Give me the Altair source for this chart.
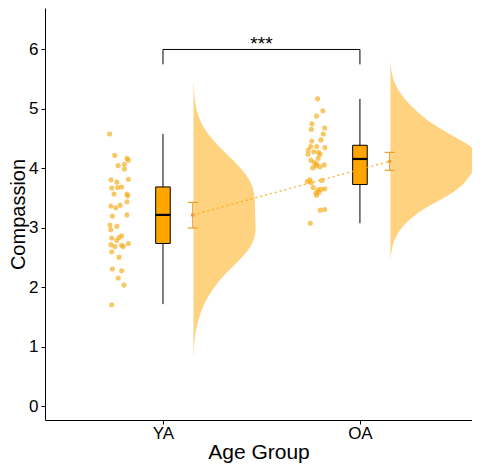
import altair as alt
import pandas as pd

# ---------------- data ----------------
groups = ["YA", "OA"]
group_pos = [1, 2]

ya_values = [4.58, 4.22, 4.17, 4.14, 4.05, 4.07, 3.99, 3.81, 3.77, 3.82, 3.67, 3.68, 3.69,
             3.57, 3.57, 3.54, 3.37, 3.34, 3.38, 3.44, 3.20, 3.22, 3.05, 3.03, 2.97, 2.83,
             2.79, 2.84, 2.87, 2.72, 2.69, 2.71, 2.69, 2.74, 2.60, 2.51, 2.31, 2.28, 2.16,
             2.04, 1.71]
ya_jitter = [-0.271, -0.245, -0.183, -0.176, -0.228, -0.196, -0.196, -0.264, -0.234, -0.176,
             -0.260, -0.230, -0.210, -0.183, -0.249, -0.179, -0.264, -0.240, -0.217, -0.183,
             -0.257, -0.183, -0.269, -0.234, -0.265, -0.260, -0.234, -0.223, -0.210, -0.264,
             -0.244, -0.210, -0.202, -0.176, -0.260, -0.223, -0.257, -0.210, -0.227, -0.198,
             -0.260]
oa_values = [5.17, 4.97, 4.88, 4.75, 4.68, 4.66, 4.58, 4.48, 4.46, 4.35, 4.37, 4.37, 4.31,
             4.28, 4.27, 4.24, 4.24, 4.14, 4.17, 4.10, 4.08, 4.04, 4.03, 4.06, 4.01, 3.81,
             3.78, 3.80, 3.76, 3.68, 3.64, 3.65, 3.66, 3.59, 3.60, 3.55, 3.30, 3.31, 3.08]
oa_jitter = [-0.215, -0.188, -0.220, -0.244, -0.179, -0.247, -0.186, -0.198, -0.245, -0.178,
             -0.220, -0.250, -0.262, -0.234, -0.210, -0.203, -0.264, -0.249, -0.212, -0.232,
             -0.220, -0.223, -0.203, -0.181, -0.240, -0.254, -0.268, -0.193, -0.247, -0.237,
             -0.213, -0.196, -0.178, -0.223, -0.207, -0.220, -0.202, -0.179, -0.252]

box_min = [1.72, 3.08]
box_q1 = [2.74, 3.73]
box_median = [3.22, 4.16]
box_q3 = [3.69, 4.39]
box_max = [4.58, 5.17]

mean_vals = [3.22, 4.12]
err_lo = [3.00, 3.97]
err_hi = [3.43, 4.27]

violin_bw = [0.36, 0.25]
violin_extent = [[0.85, 5.46], [2.47, 5.78]]

sig_label = "***"
sig_y = 6.0
sig_drop = 5.75

# ---------------- layout constants ----------------
BOX_HALF = 0.037
ERR_OFF = 0.151
CAP_HALF = 0.026
VIOLIN_OFF = 0.155
VIOLIN_WIDTH = [0.315, 0.448]

ORANGE = "#FFA500"
POINT_COL = "#F5A300"
ERR_COL = "#EBA030"

# ---------------- tables ----------------
pts = pd.DataFrame({
    "group": ["YA"] * len(ya_values) + ["OA"] * len(oa_values),
    "value": ya_values + oa_values,
    "jitter": ya_jitter + oa_jitter,
    "pos": [group_pos[0]] * len(ya_values) + [group_pos[1]] * len(oa_values),
})
summ = pd.DataFrame({
    "group": groups, "pos": group_pos,
    "min": box_min, "q1": box_q1, "med": box_median, "q3": box_q3, "max": box_max,
    "mean": mean_vals, "lo": err_lo, "hi": err_hi,
})
bracket = pd.DataFrame({
    "xa": [group_pos[0], group_pos[0], group_pos[1]],
    "xb": [group_pos[1], group_pos[0], group_pos[1]],
    "ya": [sig_y, sig_drop, sig_drop],
    "yb": [sig_y, sig_y, sig_y],
})
sig = pd.DataFrame({"x": [sum(group_pos) / 2], "y": [sig_y], "label": [sig_label]})

xscale = alt.Scale(domain=[0.401, 2.569], nice=False, zero=False)
yscale = alt.Scale(domain=[-0.227, 6.697], nice=False, zero=False)
label_expr = "[" + ",".join("'" + g + "'" for g in groups) + "][datum.value - 1]"
xaxis = alt.Axis(values=group_pos, labelExpr=label_expr, title="Age Group")
yaxis = alt.Axis(values=[0, 1, 2, 3, 4, 5, 6], title="Compassion")


def X(f):
    return alt.X(f, type="quantitative", scale=xscale, axis=xaxis, title="Age Group")


def Y(f):
    return alt.Y(f, type="quantitative", scale=yscale, axis=yaxis, title="Compassion")


# violins
violins = []
for i, g in enumerate(groups):
    v = (alt.Chart(pts)
         .transform_filter(alt.datum.group == g)
         .transform_density("value", bandwidth=violin_bw[i], extent=violin_extent[i],
                            steps=200, as_=["value", "density"])
         .transform_joinaggregate(dmax="max(density)")
         .transform_calculate(
             x0=f"{group_pos[i]} + {VIOLIN_OFF}",
             x1=f"{group_pos[i]} + {VIOLIN_OFF} + datum.density / datum.dmax * {VIOLIN_WIDTH[i]}")
         .mark_area(orient="horizontal", color=ORANGE, opacity=0.5, clip=True)
         .encode(y=Y("value"), x=X("x0"), x2="x1"))
    violins.append(v)

points = (alt.Chart(pts)
          .transform_calculate(xp="datum.pos + datum.jitter")
          .mark_circle(size=26, color=POINT_COL, opacity=0.6)
          .encode(x=X("xp"), y=Y("value")))

base = alt.Chart(summ).transform_calculate(
    xl=f"datum.pos - {BOX_HALF}", xr=f"datum.pos + {BOX_HALF}",
    xm=f"datum.pos + {ERR_OFF}",
    cl=f"datum.pos + {ERR_OFF} - {CAP_HALF}", cr=f"datum.pos + {ERR_OFF} + {CAP_HALF}")

whisk = base.mark_rule(color="black", strokeWidth=1).encode(x=X("pos"), y=Y("min"), y2="max")
box = base.mark_bar(fill=ORANGE, stroke="black", strokeWidth=1).encode(
    x=X("xl"), x2="xr", y=Y("q1"), y2="q3")
med = base.mark_rule(color="black", strokeWidth=2.2).encode(x=X("xl"), x2="xr", y=Y("med"))

mline = base.mark_line(color=ORANGE, strokeDash=[2, 3], strokeWidth=1.4, opacity=0.8).encode(
    x=X("xm"), y=Y("mean"))
ebar = base.mark_rule(color=ERR_COL, strokeWidth=1.2).encode(x=X("xm"), y=Y("lo"), y2="hi")
cap_lo = base.mark_rule(color=ERR_COL, strokeWidth=1.2).encode(x=X("cl"), x2="cr", y=Y("lo"))
cap_hi = base.mark_rule(color=ERR_COL, strokeWidth=1.2).encode(x=X("cl"), x2="cr", y=Y("hi"))
mpt = base.mark_circle(color=ERR_COL, size=14, opacity=1).encode(x=X("xm"), y=Y("mean"))

br = alt.Chart(bracket).mark_rule(color="black", strokeWidth=1).encode(
    x=X("xa"), x2="xb", y=Y("ya"), y2="yb")
txt = alt.Chart(sig).mark_text(fontSize=19, font="Liberation Sans", baseline="alphabetic",
                               dy=1, color="black").encode(
    x=X("x"), y=Y("y"), text="label:N")

chart = alt.layer(*violins, points, whisk, box, med, mline, ebar, cap_lo, cap_hi, mpt, br, txt).properties(
    width=427, height=412,
    autosize=alt.AutoSizeParams(type="none"),
    padding={"left": 37, "top": 0, "right": 0, "bottom": 44},
).configure_view(stroke=None).configure_axis(
    grid=False, domainColor="black", tickColor="black", labelColor="black", titleColor="black",
    labelFont="Liberation Sans", titleFont="Liberation Sans", labelFontSize=17, titleFontSize=21,
    titleFontWeight="normal", tickSize=4, labelPadding=3, domainWidth=1, tickWidth=1,
).configure_axisY(titlePadding=0, titleFontSize=20).configure_axisX(titlePadding=0, labelPadding=1)

chart.save("out.html", embed_options={"renderer": "svg", "actions": False})
